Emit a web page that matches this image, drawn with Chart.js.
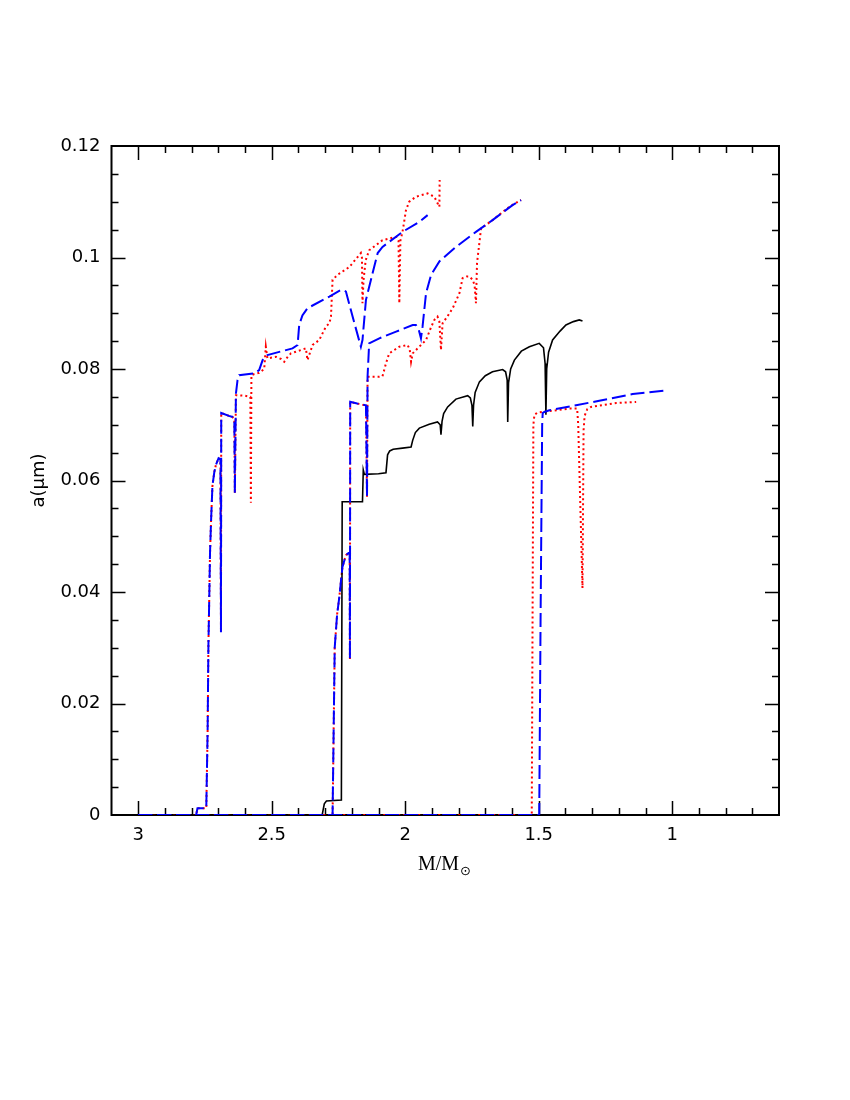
<!DOCTYPE html>
<html lang="en">

<head>
    <meta charset="UTF-8">
    <title>a vs M</title>
    <script src="https://cdn.jsdelivr.net/npm/chart.js"></script>
    <style>
        body { margin: 0; background: #fff; }
        canvas { display: block; }
    </style>
</head>

<body>
    <canvas id="grafico" width="850" height="1100"></canvas>
</body>
</html>

<script>
    // tick labels
    const xTicks = [3, 2.5, 2, 1.5, 1];
    const yTicks = [0, 0.02, 0.04, 0.06, 0.08, 0.1, 0.12];

    // [M/Msun, a(um)]
    const curvaPreta = [
        [3.0, 0], [2.311, 0], [2.303, 0.0020], [2.295, 0.0025], [2.239, 0.0027], [2.236, 0.0562],
        [2.160, 0.0562], [2.157, 0.0619], [2.153, 0.0611], [2.100, 0.0612], [2.072, 0.0614],
        [2.066, 0.0646], [2.058, 0.0653], [2.045, 0.0656], [2.010, 0.0658], [1.978, 0.0660],
        [1.972, 0.0672], [1.962, 0.0686], [1.947, 0.0694], [1.910, 0.0701], [1.879, 0.0705],
        [1.869, 0.0700], [1.866, 0.0682], [1.862, 0.0706], [1.856, 0.0720], [1.841, 0.0732],
        [1.810, 0.0746], [1.766, 0.0752], [1.756, 0.0748], [1.750, 0.0735], [1.747, 0.0697],
        [1.744, 0.0735], [1.738, 0.0758], [1.722, 0.0777], [1.700, 0.0788], [1.673, 0.0795],
        [1.635, 0.0799], [1.624, 0.0795], [1.618, 0.0780], [1.616, 0.0705], [1.613, 0.0775],
        [1.605, 0.0800], [1.591, 0.0816], [1.565, 0.0832], [1.535, 0.0840], [1.498, 0.0846],
        [1.482, 0.0838], [1.476, 0.0810], [1.473, 0.0718], [1.470, 0.0800], [1.463, 0.0830],
        [1.448, 0.0852], [1.420, 0.0868], [1.398, 0.0879], [1.370, 0.0885], [1.348, 0.0888],
        [1.336, 0.0886]
    ];

    const curvaAzul1 = [
        [3.0, 0], [2.783, 0], [2.778, 0.0012], [2.745, 0.0012], [2.740, 0.0150], [2.737, 0.0305],
        [2.734, 0.0386], [2.731, 0.0470], [2.727, 0.0529], [2.722, 0.0590], [2.715, 0.0615],
        [2.709, 0.0628], [2.699, 0.0640], [2.692, 0.0638], [2.690, 0.0328], [2.689, 0.0721],
        [2.660, 0.0716], [2.647, 0.0714], [2.640, 0.0709], [2.638, 0.0577], [2.634, 0.0756],
        [2.628, 0.0780], [2.622, 0.0789], [2.565, 0.0792], [2.547, 0.0798], [2.534, 0.0816],
        [2.516, 0.0825], [2.422, 0.0837], [2.403, 0.0843], [2.397, 0.0879], [2.385, 0.0896],
        [2.366, 0.0909], [2.284, 0.0930], [2.241, 0.0942], [2.228, 0.0941], [2.222, 0.0939],
        [2.197, 0.0894], [2.166, 0.0840], [2.160, 0.0852], [2.147, 0.0924], [2.122, 0.0972],
        [2.103, 0.1008], [2.085, 0.1019], [2.010, 0.1046], [1.947, 0.1064], [1.916, 0.1076]
    ];

    const curvaVermelha1 = [
        [3.0, 0], [2.783, 0], [2.778, 0.0012], [2.745, 0.0012], [2.740, 0.0150], [2.737, 0.0305],
        [2.734, 0.0386], [2.731, 0.0470], [2.727, 0.0529], [2.722, 0.0590], [2.715, 0.0615],
        [2.709, 0.0628], [2.699, 0.0640], [2.692, 0.0638], [2.690, 0.0328], [2.689, 0.0721],
        [2.660, 0.0716], [2.647, 0.0714], [2.640, 0.0709], [2.638, 0.0577], [2.634, 0.0753],
        [2.600, 0.0752], [2.580, 0.0750], [2.578, 0.0560], [2.576, 0.0789], [2.565, 0.0791],
        [2.547, 0.0793], [2.528, 0.0800], [2.522, 0.0840], [2.516, 0.0819], [2.484, 0.0822],
        [2.465, 0.0818], [2.453, 0.0813], [2.440, 0.0822], [2.428, 0.0828], [2.372, 0.0837],
        [2.366, 0.0816], [2.347, 0.0843], [2.322, 0.0852], [2.297, 0.0876], [2.284, 0.0882],
        [2.278, 0.0894], [2.272, 0.0960], [2.253, 0.0969], [2.209, 0.0983], [2.197, 0.0990],
        [2.166, 0.1008], [2.162, 0.1000], [2.160, 0.0918], [2.156, 0.0960], [2.148, 0.0995],
        [2.135, 0.1013], [2.085, 0.1031], [2.034, 0.1037], [2.025, 0.1030], [2.022, 0.0918],
        [2.018, 0.1030], [2.010, 0.1046], [1.997, 0.1085], [1.985, 0.1100], [1.960, 0.1109],
        [1.916, 0.1115], [1.891, 0.1109], [1.872, 0.1091], [1.871, 0.1139]
    ];

    const curvaAzul2 = [
        [3.0, 0], [2.272, 0], [2.268, 0.0150], [2.264, 0.0300], [2.255, 0.0360], [2.247, 0.0390],
        [2.235, 0.0445], [2.222, 0.0466], [2.212, 0.0470], [2.208, 0.0470], [2.207, 0.0280],
        [2.206, 0.0741], [2.180, 0.0738], [2.160, 0.0736], [2.147, 0.0735], [2.143, 0.0571],
        [2.141, 0.0786], [2.135, 0.0846], [2.097, 0.0855], [2.034, 0.0867], [1.972, 0.0879],
        [1.960, 0.0879], [1.950, 0.0872], [1.941, 0.0855], [1.935, 0.0876], [1.922, 0.0936],
        [1.903, 0.0969], [1.872, 0.0993], [1.810, 0.1019], [1.735, 0.1046], [1.673, 0.1067],
        [1.598, 0.1094], [1.566, 0.1103]
    ];

    const curvaVermelha2 = [
        [3.0, 0], [2.272, 0], [2.268, 0.0150], [2.264, 0.0300], [2.255, 0.0360], [2.247, 0.0390],
        [2.235, 0.0445], [2.222, 0.0466], [2.212, 0.0470], [2.208, 0.0470], [2.207, 0.0280],
        [2.206, 0.0741], [2.180, 0.0738], [2.160, 0.0736], [2.147, 0.0735], [2.143, 0.0571],
        [2.141, 0.0786], [2.100, 0.0786], [2.085, 0.0787], [2.072, 0.0810], [2.060, 0.0828],
        [2.022, 0.0840], [1.991, 0.0843], [1.983, 0.0835], [1.978, 0.0813], [1.972, 0.0828],
        [1.966, 0.0831], [1.922, 0.0852], [1.903, 0.0875], [1.891, 0.0888], [1.879, 0.0894],
        [1.872, 0.0885], [1.866, 0.0834], [1.860, 0.0882], [1.841, 0.0895], [1.822, 0.0909],
        [1.797, 0.0936], [1.785, 0.0963], [1.770, 0.0966], [1.760, 0.0966], [1.747, 0.0960],
        [1.740, 0.0950], [1.735, 0.0918], [1.731, 0.0990], [1.716, 0.1052], [1.673, 0.1067],
        [1.610, 0.1091], [1.566, 0.1103]
    ];

    const curvaAzul3 = [
        [3.0, 0], [1.498, 0], [1.493, 0.0350], [1.487, 0.0700], [1.485, 0.0721], [1.479, 0.0723],
        [1.460, 0.0726], [1.360, 0.0735], [1.273, 0.0743], [1.148, 0.0755], [1.029, 0.0761]
    ];

    const curvaVermelha3 = [
        [3.0, 0], [1.526, 0], [1.520, 0.0700], [1.516, 0.0718], [1.504, 0.0722], [1.385, 0.0729],
        [1.356, 0.0729], [1.352, 0.0700], [1.336, 0.0407], [1.332, 0.0690], [1.328, 0.0716],
        [1.318, 0.0728], [1.304, 0.0732], [1.210, 0.0739], [1.135, 0.0741]
    ];

    const fonteEixo = "'DejaVu Sans', sans-serif";

    function pontos(curva) {
        return curva.map(p => ({ x: p[0], y: p[1] }));
    }

    function serieAzul(curva) {
        return { data: pontos(curva), borderColor: '#0000ff', borderWidth: 2, borderDash: [14, 5], order: 0 };
    }

    function serieVermelha(curva) {
        return { data: pontos(curva), borderColor: '#ff0000', borderWidth: 2, borderDash: [2, 3], order: 2 };
    }

    // frame with inward ticks on all four sides + x title, drawn under the curves
    const moldura = {
        id: 'moldura',
        beforeDatasetsDraw(chart) {
            const ctx = chart.ctx;
            const area = chart.chartArea;
            const sx = chart.scales.x;
            const sy = chart.scales.y;

            ctx.save();
            ctx.strokeStyle = '#000';
            ctx.lineWidth = 1.5;
            ctx.beginPath();
            for (let i = 7; i <= 30; i++) {
                const px = Math.round(sx.getPixelForValue(i / 10)) + 0.5;
                const len = i % 5 === 0 ? 14 : 7;
                ctx.moveTo(px, area.bottom);
                ctx.lineTo(px, area.bottom - len);
                ctx.moveTo(px, area.top);
                ctx.lineTo(px, area.top + len);
            }
            for (let i = 1; i < 24; i++) {
                const py = Math.round(sy.getPixelForValue(i * 0.005)) + 0.5;
                const len = i % 4 === 0 ? 14 : 7;
                ctx.moveTo(area.left, py);
                ctx.lineTo(area.left + len, py);
                ctx.moveTo(area.right, py);
                ctx.lineTo(area.right - len, py);
            }
            ctx.stroke();

            ctx.lineWidth = 2;
            ctx.strokeRect(area.left, area.top, area.right - area.left, area.bottom - area.top);

            // M/M_sun
            ctx.fillStyle = '#000';
            ctx.textBaseline = 'alphabetic';
            ctx.textAlign = 'left';
            ctx.font = "20px 'Liberation Serif', serif";
            const txt = 'M/M';
            const w = ctx.measureText(txt).width;
            const x0 = 418;
            ctx.fillText(txt, x0, 870);
            ctx.font = "13px 'DejaVu Sans', sans-serif";
            ctx.fillText('\u2299', x0 + w + 1, 875);
            ctx.restore();
        }
    };

    window.onload = function () {
        const ctx = document.getElementById('grafico').getContext('2d');

        new Chart(ctx, {
            type: 'line',
            data: {
                datasets: [
                    serieVermelha(curvaVermelha1),
                    serieVermelha(curvaVermelha2),
                    serieVermelha(curvaVermelha3),
                    { data: pontos(curvaPreta), borderColor: '#000000', borderWidth: 1.6, order: 1 },
                    serieAzul(curvaAzul1),
                    serieAzul(curvaAzul2),
                    serieAzul(curvaAzul3)
                ]
            },
            options: {
                responsive: false,
                animation: false,
                events: [],
                elements: { point: { radius: 0 }, line: { tension: 0, fill: false } },
                layout: { padding: { top: 146, right: 71, bottom: 0, left: 0 } },
                plugins: {
                    legend: { display: false },
                    tooltip: { enabled: false },
                    title: { display: false }
                },
                scales: {
                    x: {
                        type: 'linear',
                        reverse: true,
                        min: 0.6,
                        max: 3.1,
                        grid: { display: false, drawTicks: false },
                        border: { display: false },
                        afterBuildTicks: s => { s.ticks = xTicks.map(v => ({ value: v })); },
                        afterFit: s => { s.height = 285; },
                        ticks: {
                            color: '#000',
                            padding: 10,
                            maxRotation: 0,
                            autoSkip: false,
                            font: { family: fonteEixo, size: 18 },
                            callback: v => String(v)
                        }
                    },
                    y: {
                        type: 'linear',
                        min: 0,
                        max: 0.12,
                        grid: { display: false, drawTicks: false },
                        border: { display: false },
                        afterBuildTicks: s => { s.ticks = yTicks.map(v => ({ value: v })); },
                        afterFit: s => { s.width = 111.5; },
                        title: {
                            display: true,
                            text: 'a(\u03bcm)',
                            color: '#000',
                            padding: { top: 29, bottom: 0 },
                            font: { family: fonteEixo, size: 18 }
                        },
                        ticks: {
                            color: '#000',
                            padding: 11,
                            autoSkip: false,
                            font: { family: fonteEixo, size: 18 },
                            callback: v => String(+v.toFixed(3))
                        }
                    }
                }
            },
            plugins: [moldura]
        });
    };
</script>
